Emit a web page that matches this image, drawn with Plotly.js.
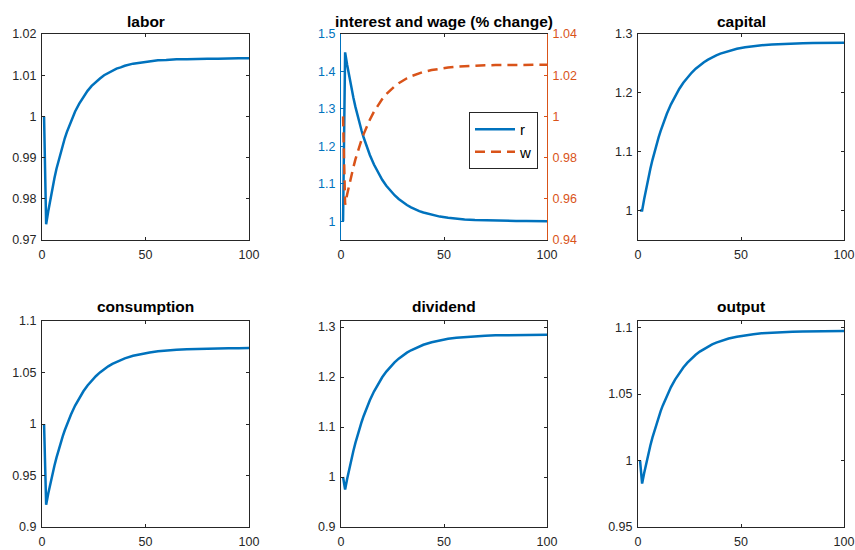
<!DOCTYPE html>
<html><head><meta charset="utf-8">
<script src="https://cdn.plot.ly/plotly-3.0.1.min.js"></script>
<style>html,body{margin:0;padding:0;background:#fff}#chart{width:855px;height:550px}</style>
</head><body><div id="chart"></div>
<script>
// ---- data ----
const periods = [1,2,3,4,5,6,7,8,9,10,11,12,14,16,18,20,22,24,26,28,30,32,34,36,38,40,44,48,52,56,60,65,70,75,80,85,90,95,100];

const labor = [1.0,0.9738,0.9769,0.9798,0.9825,0.9850,0.9873,0.9893,0.9913,0.9931,0.9947,0.9962,0.9989,1.0012,1.0031,1.0048,1.0062,1.0074,1.0084,1.0092,1.0100,1.0106,1.0111,1.0116,1.0119,1.0123,1.0128,1.0131,1.0134,1.0136,1.0137,1.0139,1.0139,1.0140,1.0140,1.0140,1.0141,1.0141,1.0141];
const interest = [1.0,1.4510,1.4172,1.3859,1.3570,1.3302,1.3054,1.2825,1.2613,1.2417,1.2236,1.2068,1.1770,1.1514,1.1296,1.1109,1.0948,1.0812,1.0695,1.0594,1.0508,1.0435,1.0372,1.0318,1.0272,1.0233,1.0171,1.0125,1.0092,1.0067,1.0049,1.0033,1.0023,1.0015,1.0010,1.0007,1.0005,1.0003,1.0002];
const wage = [1.0,0.9571,0.9622,0.9669,0.9713,0.9753,0.9791,0.9825,0.9857,0.9887,0.9914,0.9939,0.9984,1.0023,1.0056,1.0084,1.0108,1.0129,1.0146,1.0161,1.0174,1.0185,1.0195,1.0203,1.0210,1.0216,1.0225,1.0232,1.0237,1.0241,1.0244,1.0246,1.0248,1.0249,1.0249,1.0250,1.0250,1.0251,1.0251];
const capital = [1.0,1.0,1.0197,1.0380,1.0551,1.0710,1.0858,1.0996,1.1124,1.1244,1.1355,1.1458,1.1644,1.1805,1.1945,1.2066,1.2172,1.2263,1.2341,1.2410,1.2469,1.2520,1.2565,1.2604,1.2637,1.2666,1.2713,1.2749,1.2775,1.2795,1.2810,1.2823,1.2833,1.2840,1.2844,1.2847,1.2850,1.2851,1.2852];
const consumption = [1.0,0.9217,0.9322,0.9420,0.9511,0.9595,0.9674,0.9748,0.9816,0.9880,0.9939,0.9994,1.0093,1.0179,1.0253,1.0318,1.0374,1.0422,1.0464,1.0501,1.0533,1.0560,1.0584,1.0604,1.0622,1.0637,1.0662,1.0681,1.0695,1.0706,1.0714,1.0721,1.0726,1.0730,1.0732,1.0734,1.0735,1.0736,1.0737];
const dividend = [1.0,0.9750,0.9964,1.0163,1.0348,1.0521,1.0682,1.0831,1.0971,1.1100,1.1221,1.1333,1.1535,1.1710,1.1862,1.1994,1.2108,1.2207,1.2292,1.2367,1.2431,1.2487,1.2535,1.2577,1.2613,1.2645,1.2696,1.2734,1.2763,1.2785,1.2801,1.2816,1.2826,1.2833,1.2838,1.2842,1.2844,1.2846,1.2847];
const output = [1.0,0.9827,0.9906,0.9980,1.0049,1.0113,1.0172,1.0227,1.0279,1.0327,1.0372,1.0413,1.0488,1.0553,1.0609,1.0658,1.0700,1.0737,1.0768,1.0796,1.0820,1.0840,1.0858,1.0874,1.0887,1.0899,1.0918,1.0932,1.0943,1.0951,1.0957,1.0962,1.0966,1.0969,1.0971,1.0972,1.0973,1.0974,1.0974];

const titles = ['labor','interest and wage (% change)','capital','consumption','dividend','output'];
const seriesNames = ['r','w'];

const xTicks = [0,50,100];
const xTickText = ['0','50','100'];
const laborTicks = [0.97,0.98,0.99,1,1.01,1.02];
const laborTickText = ['0.97','0.98','0.99','1','1.01','1.02'];
const rTicks = [1,1.1,1.2,1.3,1.4,1.5];
const rTickText = ['1','1.1','1.2','1.3','1.4','1.5'];
const wTicks = [0.94,0.96,0.98,1,1.02,1.04];
const wTickText = ['0.94','0.96','0.98','1','1.02','1.04'];
const capitalTicks = [1,1.1,1.2,1.3];
const capitalTickText = ['1','1.1','1.2','1.3'];
const consTicks = [0.9,0.95,1,1.05,1.1];
const consTickText = ['0.9','0.95','1','1.05','1.1'];
const divTicks = [0.9,1,1.1,1.2,1.3];
const divTickText = ['0.9','1','1.1','1.2','1.3'];
const outTicks = [0.95,1,1.05,1.1];
const outTickText = ['0.95','1','1.05','1.1'];

// ---- styling ----
const FONT = '"Liberation Sans", Arial, Helvetica, sans-serif';
const TICK_SIZE = 12.5;
const AX = '#262626';
const BLUE = '#0072BD';
const ORANGE = '#D95319';
const W = 855, H = 550;
const px = v => v / W;
const py = v => (H - v) / H;

const cols = [[42, 249], [341, 547], [638, 844]];
const rows = [[34, 240], [321, 527]];

function xax(col, row, anchor) {
  return {
    domain: [px(cols[col][0]), px(cols[col][1])], anchor: anchor,
    range: [0, 100], tickmode: 'array', tickvals: xTicks, ticktext: xTickText,
    ticks: 'inside', ticklen: 3, tickcolor: AX, showline: true, linecolor: AX, linewidth: 1,
    mirror: 'ticks', showgrid: false, zeroline: false, fixedrange: true,
    ticklabeloverflow: 'allow', ticklabelstandoff: 3,
    tickfont: {family: FONT, size: TICK_SIZE, color: AX}
  };
}
function yax(row, anchor, range, vals, text, color, mirror) {
  return {
    domain: [py(rows[row][1]), py(rows[row][0])], anchor: anchor,
    range: range, tickmode: 'array', tickvals: vals, ticktext: text,
    ticks: 'inside', ticklen: 3, tickcolor: color, showline: true, linecolor: color, linewidth: 1,
    mirror: mirror, showgrid: false, zeroline: false, fixedrange: true,
    ticklabeloverflow: 'allow', ticklabelstandoff: 2,
    tickfont: {family: FONT, size: TICK_SIZE, color: color}
  };
}

const lineStyle = {color: BLUE, width: 2.5};
const traces = [
  {x: periods, y: labor, xaxis: 'x', yaxis: 'y', mode: 'lines', line: lineStyle, showlegend: false},
  {x: periods, y: interest, xaxis: 'x2', yaxis: 'y2', mode: 'lines', name: seriesNames[0], line: lineStyle, showlegend: true},
  {x: periods, y: wage, xaxis: 'x2', yaxis: 'y7', mode: 'lines', name: seriesNames[1], line: {color: ORANGE, width: 2.5, dash: '10px,6px'}, showlegend: true},
  {x: periods, y: capital, xaxis: 'x3', yaxis: 'y3', mode: 'lines', line: lineStyle, showlegend: false},
  {x: periods, y: consumption, xaxis: 'x4', yaxis: 'y4', mode: 'lines', line: lineStyle, showlegend: false},
  {x: periods, y: dividend, xaxis: 'x5', yaxis: 'y5', mode: 'lines', line: lineStyle, showlegend: false},
  {x: periods, y: output, xaxis: 'x6', yaxis: 'y6', mode: 'lines', line: lineStyle, showlegend: false}
];

const titlePos = [[0,0],[1,0],[2,0],[0,1],[1,1],[2,1]];
const titleY = [21, 307];
const annotations = titles.map((t, i) => ({
  text: '<b>' + t + '</b>', xref: 'paper', yref: 'paper',
  x: px((cols[titlePos[i][0]][0] + cols[titlePos[i][0]][1]) / 2), y: py(titleY[titlePos[i][1]]),
  xanchor: 'center', yanchor: 'middle', showarrow: false,
  font: {family: FONT, size: 15.5, color: '#000'}
}));

const y7 = yax(0, 'x2', [0.94, 1.04], wTicks, wTickText, ORANGE, false);
y7.overlaying = 'y2'; y7.side = 'right';
delete y7.domain;

const layout = {
  width: W, height: H, margin: {l: 0, r: 0, t: 0, b: 0},
  paper_bgcolor: '#fff', plot_bgcolor: '#fff',
  font: {family: FONT, color: AX},
  xaxis: xax(0, 0, 'y'), xaxis2: xax(1, 0, 'y2'), xaxis3: xax(2, 0, 'y3'),
  xaxis4: xax(0, 1, 'y4'), xaxis5: xax(1, 1, 'y5'), xaxis6: xax(2, 1, 'y6'),
  yaxis: yax(0, 'x', [0.97, 1.02], laborTicks, laborTickText, AX, 'ticks'),
  yaxis2: yax(0, 'x2', [0.95, 1.5], rTicks, rTickText, BLUE, false),
  yaxis3: yax(0, 'x3', [0.95, 1.3], capitalTicks, capitalTickText, AX, 'ticks'),
  yaxis4: yax(1, 'x4', [0.9, 1.1], consTicks, consTickText, AX, 'ticks'),
  yaxis5: yax(1, 'x5', [0.9, 1.312], divTicks, divTickText, AX, 'ticks'),
  yaxis6: yax(1, 'x6', [0.95, 1.105], outTicks, outTickText, AX, 'ticks'),
  yaxis7: y7,
  showlegend: true,
  legend: {
    x: px(469), y: py(112), xanchor: 'left', yanchor: 'top',
    bgcolor: '#fff', bordercolor: AX, borderwidth: 1,
    font: {family: FONT, size: 15, color: '#000'},
    itemwidth: 40
  },
  annotations: annotations
};

Plotly.newPlot('chart', traces, layout, {displayModeBar: false, staticPlot: true});
</script></body></html>
